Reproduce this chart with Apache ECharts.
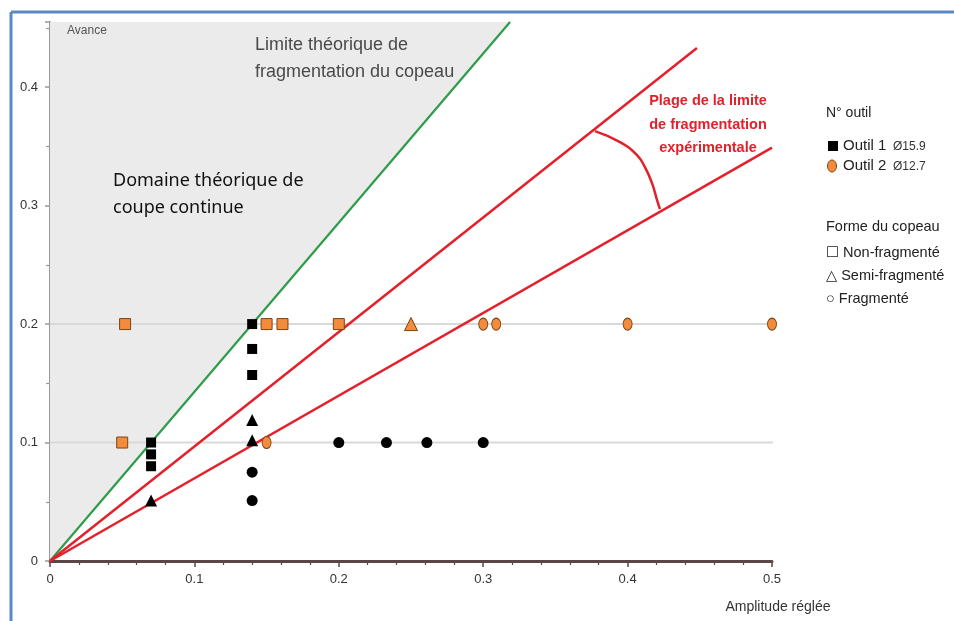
<!DOCTYPE html>
<html>
<head>
<meta charset="utf-8">
<script src="https://cdn.jsdelivr.net/npm/echarts@6/dist/echarts.min.js"></script>
<style>html,body{margin:0;padding:0;background:#fff}#c{width:954px;height:621px}</style>
</head>
<body>
<div id="c"></div>
<script>
// ---- data ----
const outil1Square = [[0.07,0.1],[0.07,0.09],[0.07,0.08],[0.14,0.2],[0.14,0.179],[0.14,0.157]];
const outil1Triangle = [[0.07,0.051],[0.14,0.119],[0.14,0.102]];
const outil1Circle = [[0.14,0.075],[0.14,0.051],[0.2,0.1],[0.233,0.1],[0.261,0.1],[0.3,0.1]];
const outil2Square = [[0.052,0.2],[0.05,0.1],[0.15,0.2],[0.161,0.2],[0.2,0.2]];
const outil2Triangle = [[0.25,0.2]];
const outil2Circle = [[0.15,0.1],[0.3,0.2],[0.309,0.2],[0.4,0.2],[0.5,0.2]];
const greenLimit = [[0,0],[0.3186,0.455]];
const redUpper = [[0,0],[0.448,0.433]];
const redLower = [[0,0],[0.5,0.349]];
const arcPts = [[0.3774,0.3629],[0.3947,0.3536],[0.4065,0.3426],[0.412,0.3325],[0.4169,0.319],[0.4204,0.3046],[0.4224,0.297]];
const gridValues = [0.1,0.2];
const gridEnd = 0.51;
const xMax = 0.5, yMax = 0.455;

const FONT = '"Liberation Sans", Arial, sans-serif';
const LFONT = '"Liberation Sans", "DejaVu Sans", sans-serif';
const ORANGE = '#f28b3c', ORANGE_B = '#7a4514';

const chart = echarts.init(document.getElementById('c'), null, {renderer:'canvas'});

function scatter(name, data, symbol, size, color, border, z) {
  return {
    name, type:'scatter', data, symbol, symbolSize:size, z: z||6,
    itemStyle:{color, borderColor:border||color, borderWidth: border?1:0, opacity:1},
    silent:true, animation:false
  };
}
function line(data, color, width, z, extra) {
  return Object.assign({
    type:'line', data, symbol:'none', z, silent:true, animation:false,
    lineStyle:{color, width}
  }, extra||{});
}

const gridSeries = gridValues.map(v => line([[0,v],[gridEnd,v]], '#d9d9d9', 2, 2, {clip:false}));

const option = {
  animation:false,
  backgroundColor:'#fff',
  grid:{left:50, right:182, top:22, bottom:60},
  xAxis:{
    type:'value', min:0, max:xMax, interval:0.1,
    axisLine:{show:true, onZero:false, lineStyle:{color:'#5a4646', width:3}},
    axisTick:{show:true, length:6, lineStyle:{color:'#5a4646', width:1.5}},
    minorTick:{show:true, splitNumber:5, length:4, lineStyle:{color:'#5a4646', width:1.2}},
    splitLine:{show:false},
    axisLabel:{color:'#333', fontSize:13, fontFamily:FONT, margin:12}
  },
  yAxis:{
    type:'value', min:0, max:yMax, interval:0.1,
    axisLine:{show:true, onZero:false, lineStyle:{color:'#999', width:2}},
    axisTick:{show:true, length:5, lineStyle:{color:'#999', width:1.5}},
    minorTick:{show:true, splitNumber:2, length:4, lineStyle:{color:'#999', width:1.2}},
    splitLine:{show:false},
    axisLabel:{color:'#333', fontSize:13, fontFamily:FONT, margin:12, showMaxLabel:false}
  },
  series:[
    // grey theoretical continuous-cutting domain
    line(greenLimit, 'rgba(0,0,0,0)', 0, 1, {areaStyle:{color:'#ebebeb', origin:'end', opacity:1}}),
    ...gridSeries,
    line(greenLimit, '#2e9c48', 2.2, 3),
    line(redUpper, '#e3202b', 2.5, 3),
    line(redLower, '#e3202b', 2.5, 3),
    line(arcPts, '#e3202b', 2.5, 3, {smooth:true}),
    scatter('o1s', outil1Square, 'rect', 10, '#000'),
    scatter('o1t', outil1Triangle, 'triangle', 12, '#000'),
    scatter('o1c', outil1Circle, 'circle', 11, '#000'),
    scatter('o2s', outil2Square, 'rect', 11, ORANGE, ORANGE_B),
    scatter('o2t', outil2Triangle, 'triangle', 13, ORANGE, ORANGE_B),
    scatter('o2c', outil2Circle, 'circle', [9,12], ORANGE, ORANGE_B)
  ],
  graphic:[
    {type:'line', shape:{x1:11,y1:12,x2:954,y2:12}, style:{stroke:'#5b87c5', lineWidth:3}, z:100},
    {type:'line', shape:{x1:11,y1:12,x2:11,y2:621}, style:{stroke:'#5b87c5', lineWidth:3}, z:100},
    {type:'text', x:67, y:31, style:{text:'Avance', font:'12px '+FONT, fill:'#555', textVerticalAlign:'middle'}, z:100},
    {type:'text', x:255, y:45, style:{text:'Limite théorique de', font:'18px '+FONT, fill:'#4a4a4a', textVerticalAlign:'middle'}, z:100},
    {type:'text', x:255, y:72, style:{text:'fragmentation du copeau', font:'18px '+FONT, fill:'#4a4a4a', textVerticalAlign:'middle'}, z:100},
    {type:'text', x:113, y:181, style:{text:'Domaine théorique de', font:'18px "Noto Sans", sans-serif', fill:'#111', textVerticalAlign:'middle'}, z:100},
    {type:'text', x:113, y:208, style:{text:'coupe continue', font:'18px "Noto Sans", sans-serif', fill:'#111', textVerticalAlign:'middle'}, z:100},
    {type:'text', x:708, y:101, style:{text:'Plage de la limite', font:'bold 14.5px '+FONT, fill:'#e3202b', textAlign:'center', textVerticalAlign:'middle'}, z:100},
    {type:'text', x:708, y:125, style:{text:'de fragmentation', font:'bold 14.5px '+FONT, fill:'#e3202b', textAlign:'center', textVerticalAlign:'middle'}, z:100},
    {type:'text', x:708, y:148, style:{text:'expérimentale', font:'bold 14.5px '+FONT, fill:'#e3202b', textAlign:'center', textVerticalAlign:'middle'}, z:100},
    // legend
    {type:'text', x:826, y:113, style:{text:'N° outil', font:'14px '+FONT, fill:'#222', textVerticalAlign:'middle'}, z:100},
    {type:'rect', shape:{x:828,y:141,width:10,height:10}, style:{fill:'#000'}, z:100},
    {type:'text', x:843, y:146, style:{text:'Outil 1', font:'15px '+FONT, fill:'#222', textVerticalAlign:'middle'}, z:100},
    {type:'text', x:893, y:147, style:{text:'Ø15.9', font:'12px '+FONT, fill:'#333', textVerticalAlign:'middle'}, z:100},
    {type:'ellipse', shape:{cx:832,cy:166,rx:4.5,ry:6}, style:{fill:ORANGE, stroke:ORANGE_B, lineWidth:1}, z:100},
    {type:'text', x:843, y:166, style:{text:'Outil 2', font:'15px '+FONT, fill:'#222', textVerticalAlign:'middle'}, z:100},
    {type:'text', x:893, y:167, style:{text:'Ø12.7', font:'12px '+FONT, fill:'#333', textVerticalAlign:'middle'}, z:100},
    {type:'text', x:826, y:227, style:{text:'Forme du copeau', font:'14.5px '+FONT, fill:'#222', textVerticalAlign:'middle'}, z:100},
    {type:'text', x:826, y:253, style:{text:'☐ Non-fragmenté', font:'14.5px '+LFONT, fill:'#222', textVerticalAlign:'middle'}, z:100},
    {type:'text', x:826, y:276, style:{text:'△ Semi-fragmenté', font:'14.5px '+LFONT, fill:'#222', textVerticalAlign:'middle'}, z:100},
    {type:'text', x:826, y:299, style:{text:'○ Fragmenté', font:'14.5px '+LFONT, fill:'#222', textVerticalAlign:'middle'}, z:100},
    {type:'text', x:778, y:607, style:{text:'Amplitude réglée', font:'14px '+FONT, fill:'#333', textAlign:'center', textVerticalAlign:'middle'}, z:100}
  ]
};
chart.setOption(option);
</script>
</body>
</html>
